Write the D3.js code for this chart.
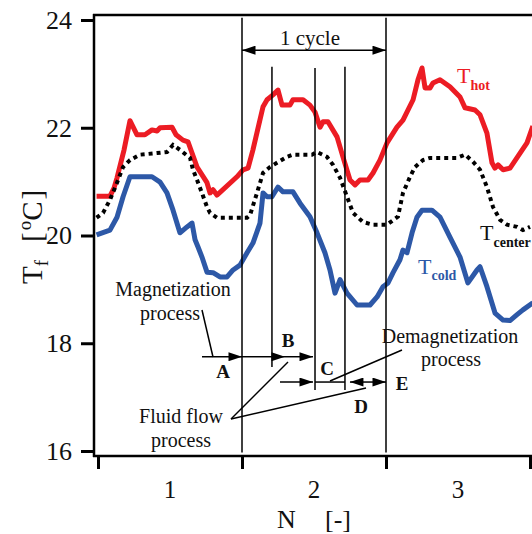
<!DOCTYPE html>
<html>
<head>
<meta charset="utf-8">
<script src="https://cdn.jsdelivr.net/npm/d3@7/dist/d3.min.js"></script>
<style>
  body { margin: 0; background: #fff; }
  svg { display: block; }
  text { font-family: "Liberation Serif", "Times New Roman", serif; fill: #111; }
</style>
</head>
<body>
<svg id="chart" width="532" height="534"></svg>
<script>
// cycle number N (0..3) and fluid temperature Tf [C]
const hotN = [-0.01, 0.083, 0.111, 0.132, 0.181, 0.222, 0.271, 0.326, 0.375, 0.41, 0.431, 0.514, 0.542, 0.59, 0.625, 0.688, 0.757, 0.778, 0.799, 0.826, 0.868, 0.965, 1.007, 1.042, 1.076, 1.146, 1.174, 1.215, 1.25, 1.278, 1.333, 1.354, 1.424, 1.472, 1.507, 1.542, 1.563, 1.597, 1.66, 1.701, 1.75, 1.785, 1.819, 1.875, 1.91, 1.958, 2.007, 2.076, 2.118, 2.188, 2.222, 2.25, 2.271, 2.306, 2.326, 2.375, 2.444, 2.514, 2.549, 2.618, 2.653, 2.701, 2.736, 2.757, 2.778, 2.813, 2.861, 2.931, 2.979, 3.02];
const hotT = [20.73, 20.73, 20.88, 21.07, 21.59, 22.13, 21.87, 21.87, 21.96, 21.94, 22.0, 22.01, 21.87, 21.77, 21.74, 21.27, 20.98, 20.79, 20.85, 20.75, 20.85, 21.09, 21.22, 21.25, 21.59, 22.39, 22.52, 22.61, 22.7, 22.42, 22.42, 22.52, 22.52, 22.42, 22.29, 22.01, 22.11, 22.11, 21.83, 21.46, 21.03, 20.94, 21.03, 21.03, 21.16, 21.4, 21.72, 22.01, 22.14, 22.52, 22.89, 23.11, 22.74, 22.74, 22.83, 22.89, 22.76, 22.57, 22.37, 22.33, 22.24, 21.9, 21.35, 21.25, 21.31, 21.22, 21.25, 21.53, 21.72, 22.03];

const centerN = [-0.01, 0.035, 0.083, 0.132, 0.174, 0.222, 0.292, 0.41, 0.479, 0.521, 0.569, 0.639, 0.66, 0.688, 0.722, 0.757, 0.778, 0.826, 1.035, 1.056, 1.104, 1.146, 1.194, 1.243, 1.313, 1.354, 1.486, 1.521, 1.59, 1.632, 1.681, 1.729, 1.771, 1.84, 1.91, 2.007, 2.083, 2.118, 2.167, 2.201, 2.257, 2.306, 2.493, 2.549, 2.604, 2.653, 2.701, 2.743, 2.792, 2.84, 2.91, 2.951, 3.0];
const centerT = [20.33, 20.42, 20.66, 20.98, 21.27, 21.4, 21.5, 21.53, 21.55, 21.68, 21.59, 21.44, 21.22, 21.03, 20.79, 20.53, 20.42, 20.33, 20.33, 20.38, 20.79, 21.16, 21.27, 21.35, 21.46, 21.5, 21.5, 21.55, 21.46, 21.31, 21.07, 20.72, 20.42, 20.25, 20.2, 20.2, 20.35, 20.79, 21.09, 21.27, 21.4, 21.44, 21.44, 21.5, 21.37, 21.22, 20.9, 20.53, 20.29, 20.2, 20.16, 20.1, 20.16];

const coldN = [-0.01, 0.083, 0.132, 0.174, 0.222, 0.375, 0.431, 0.479, 0.521, 0.569, 0.618, 0.653, 0.674, 0.694, 0.722, 0.757, 0.799, 0.847, 0.896, 0.938, 0.986, 1.035, 1.076, 1.125, 1.146, 1.174, 1.208, 1.25, 1.285, 1.354, 1.403, 1.472, 1.521, 1.576, 1.611, 1.646, 1.681, 1.729, 1.799, 1.889, 1.938, 1.979, 2.014, 2.049, 2.097, 2.118, 2.146, 2.181, 2.215, 2.25, 2.319, 2.375, 2.444, 2.514, 2.569, 2.632, 2.653, 2.701, 2.757, 2.813, 2.861, 2.91, 2.951, 3.02];
const coldT = [20.01, 20.1, 20.34, 20.72, 21.09, 21.09, 20.99, 20.79, 20.47, 20.05, 20.16, 20.23, 19.92, 19.79, 19.6, 19.32, 19.31, 19.23, 19.23, 19.36, 19.45, 19.68, 19.86, 20.23, 20.79, 20.72, 20.72, 20.9, 20.81, 20.81, 20.6, 20.35, 20.05, 19.68, 19.36, 18.93, 19.18, 18.93, 18.71, 18.71, 18.86, 19.05, 19.12, 19.31, 19.55, 19.73, 19.68, 20.05, 20.34, 20.47, 20.47, 20.34, 19.97, 19.6, 19.12, 19.36, 19.42, 19.05, 18.56, 18.43, 18.42, 18.53, 18.62, 18.75];

const yTicks = [16, 18, 20, 22, 24];
const xTicks = [0, 1, 2, 3];
const cycleLabels = ["1", "2", "3"];

// process boundaries within the second cycle
const phaseN = [1.0, 1.208, 1.507, 1.715, 2.0];
const phaseTop = [24.04, 23.13, 23.11, 23.13, 24.04];
const phaseBottom = [15.97, 17.56, 17.13, 17.13, 15.97];

const svg = d3.select("#chart");
const x = d3.scaleLinear().domain([0, 3]).range([98, 530]);
const y = d3.scaleLinear().domain([16, 24]).range([451, 20]);

const red = "#ec1c24", blue = "#2d58a7";

// arrow marker
const defs = svg.append("defs");
defs.append("marker")
  .attr("id", "head")
  .attr("viewBox", "0 0 15 10")
  .attr("refX", 15).attr("refY", 5)
  .attr("markerWidth", 15).attr("markerHeight", 9)
  .attr("markerUnits", "userSpaceOnUse")
  .attr("orient", "auto-start-reverse")
  .append("path").attr("d", "M0,0 L15,5 L0,10 Z").attr("fill", "#000");

// curves
const line = d3.line().x(d => x(d[0])).y(d => y(d[1]));
svg.append("path")
  .attr("d", line(d3.zip(hotN, hotT)))
  .attr("fill", "none").attr("stroke", red).attr("stroke-width", 5)
  .attr("stroke-linejoin", "round");
svg.append("path")
  .attr("d", line(d3.zip(coldN, coldT)))
  .attr("fill", "none").attr("stroke", blue).attr("stroke-width", 5)
  .attr("stroke-linejoin", "round");
svg.append("path")
  .attr("d", line(d3.zip(centerN, centerT)))
  .attr("fill", "none").attr("stroke", "#000").attr("stroke-width", 4)
  .attr("stroke-dasharray", "4,4");

// vertical phase lines
phaseN.forEach((n, i) => {
  svg.append("line")
    .attr("x1", x(n)).attr("x2", x(n))
    .attr("y1", y(phaseTop[i])).attr("y2", y(phaseBottom[i]))
    .attr("stroke", "#000").attr("stroke-width", 1.5);
});

// 1 cycle arrow
svg.append("line")
  .attr("x1", x(phaseN[0])).attr("x2", x(phaseN[4]))
  .attr("y1", y(23.44)).attr("y2", y(23.44))
  .attr("stroke", "#000").attr("stroke-width", 1.5)
  .attr("marker-start", "url(#head)").attr("marker-end", "url(#head)");
svg.append("text").attr("x", 310).attr("y", 45)
  .attr("text-anchor", "middle").style("font-size", "21px").text("1 cycle");

// process arrows, row 1 (A, B)
const rowA = y(17.75), rowC = y(17.28);
function seg(x1, x2, yy, start, end) {
  const l = svg.append("line")
    .attr("x1", x1).attr("x2", x2).attr("y1", yy).attr("y2", yy)
    .attr("stroke", "#000").attr("stroke-width", 1.5);
  if (start) l.attr("marker-start", "url(#head)");
  if (end) l.attr("marker-end", "url(#head)");
}
seg(202, x(phaseN[0]), rowA, false, true);
seg(x(phaseN[0]), x(phaseN[1]), rowA, false, false);
seg(x(phaseN[1]), 285, rowA, false, true);
seg(285, x(phaseN[2]) - 2, rowA, false, true);
// row 2 (C, D, E)
seg(280, x(phaseN[2]) - 2, rowC, false, true);
seg(x(phaseN[2]), x(phaseN[3]), rowC, false, false);
seg(x(phaseN[3]) + 5, 367, rowC, true, false);
seg(367, x(phaseN[4]), rowC, false, true);

// letters
[["A", 223, 378], ["B", 288, 347], ["C", 327, 375], ["D", 361, 413], ["E", 402, 390]]
  .forEach(([t, tx, ty]) => {
    svg.append("text").attr("x", tx).attr("y", ty).attr("text-anchor", "middle")
      .style("font-size", "19px").style("font-weight", "bold").text(t);
  });

// process texts
function label(t, cx, ty) {
  svg.append("text").attr("x", cx).attr("y", ty)
    .attr("text-anchor", "middle").style("font-size", "20px").text(t);
}
label("Magnetization", 173, 296);
label("process", 170, 320);
label("Fluid flow", 181, 423);
label("process", 181, 447);
label("Demagnetization", 450, 343);
label("process", 451, 366);

// leader lines
[[202, 310, 213, 357], [231, 419, 288, 362], [231, 419, 366, 388], [330, 381, 402, 350]]
  .forEach(([a, b, c, d]) => {
    svg.append("line").attr("x1", a).attr("y1", b).attr("x2", c).attr("y2", d)
      .attr("stroke", "#000").attr("stroke-width", 1.5);
  });

// series labels
function seriesLabel(tx, ty, sub, color, subDy) {
  const t = svg.append("text").attr("x", tx).attr("y", ty).style("fill", color);
  t.append("tspan").style("font-size", "22px").style("fill", color).text("T");
  t.append("tspan").attr("dy", subDy).style("font-size", "14px")
    .style("font-weight", "bold").style("fill", color).text(sub);
}
seriesLabel(457, 83, "hot", red, 7);
seriesLabel(418, 274, "cold", blue, 6);
seriesLabel(480, 240, "center", "#111", 7);

// frame
const frame = svg.append("g").attr("stroke", "#000").attr("stroke-width", 2.5);
frame.append("line").attr("x1", 94).attr("x2", 94).attr("y1", 14).attr("y2", 457);
frame.append("line").attr("x1", 93).attr("x2", 532).attr("y1", 15).attr("y2", 15);
frame.append("line").attr("x1", 93).attr("x2", 532).attr("y1", 456).attr("y2", 456);

// y axis
const ay = svg.append("g").attr("transform", "translate(94,0)")
  .call(d3.axisLeft(y).tickValues(yTicks).tickSize(13).tickPadding(9).tickFormat(d3.format("d")));
ay.select(".domain").remove();
ay.selectAll(".tick line").attr("stroke-width", 3);
ay.selectAll(".tick text").style("font-size", "26px").style("font-family", "Liberation Serif").attr("fill", "#111");

// x axis
const ax = svg.append("g").attr("transform", "translate(0,456)")
  .call(d3.axisBottom(x).tickValues(xTicks).tickSize(13).tickFormat(""));
ax.select(".domain").remove();
ax.selectAll(".tick line").attr("stroke-width", 3);
cycleLabels.forEach((c, i) => {
  svg.append("text").attr("x", x(i + 0.5)).attr("y", 498).attr("text-anchor", "middle")
    .style("font-size", "25px").text(c);
});

// axis titles
svg.append("text").attr("x", 277).attr("y", 528).style("font-size", "26px").text("N");
svg.append("text").attr("x", 325).attr("y", 528).style("font-size", "26px").text("[-]");

const yt = svg.append("text").attr("transform", "translate(42,284) rotate(-90)")
  .style("font-size", "29px");
yt.append("tspan").text("T");
yt.append("tspan").attr("dy", 6).style("font-size", "19px").text("f");
yt.append("tspan").attr("dy", -6).attr("dx", 18).text("[");
yt.append("tspan").attr("dy", -11).attr("dx", 2).style("font-size", "19px").text("o");
yt.append("tspan").attr("dy", 11).text("C");
yt.append("tspan").attr("dx", 2).text("]");
</script>
</body>
</html>
